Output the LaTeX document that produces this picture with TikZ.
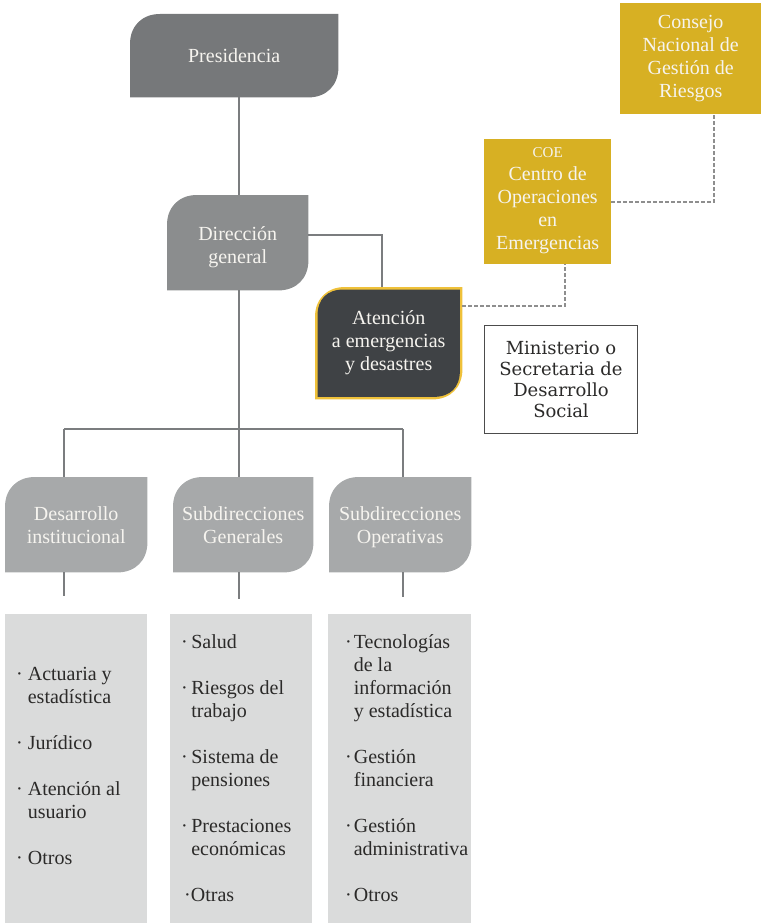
\documentclass[tikz,border=0pt]{standalone}
\usepackage{fontspec}
\setmainfont{Liberation Serif}
\newfontfamily\minfont{DejaVu Serif}
\usetikzlibrary{backgrounds}
\definecolor{presc}{HTML}{76787A}
\definecolor{dirc}{HTML}{8B8D8E}
\definecolor{subc}{HTML}{A7A9AA}
\definecolor{listc}{HTML}{DADBDB}
\definecolor{atenc}{HTML}{3F4245}
\definecolor{atenb}{HTML}{EFC13A}
\definecolor{goldc}{HTML}{D7B023}
\definecolor{linec}{HTML}{7B7D7F}
\definecolor{dashc}{HTML}{8E8E8E}
\definecolor{txtc}{HTML}{2B2A29}
\definecolor{whitec}{HTML}{F6F4EF}
\newcommand{\leafshape}[2]{\path[#2] (#1.south west) -- ([yshift=-30pt]#1.north west) .. controls ([yshift=-12pt]#1.north west) and ([xshift=12pt]#1.north west) .. ([xshift=30pt]#1.north west) -- (#1.north east) -- ([yshift=30pt]#1.south east) .. controls ([yshift=12pt]#1.south east) and ([xshift=-12pt]#1.south east) .. ([xshift=-30pt]#1.south east) -- cycle;}
\newcommand{\bA}{·\hspace{5pt}}
\newcommand{\bB}{·\hspace{3.5pt}}
\newcommand{\bC}{·\hspace{2pt}}
\newcommand{\topr}[1]{\rule{0pt}{#1pt}}
\tikzset{
  box/.style={rectangle, inner sep=0pt, anchor=north west},
  btext/.style={font=\fontsize{20}{23}\selectfont, text=whitec, align=center},
  conn/.style={draw=linec, line width=1.3pt},
  dashconn/.style={draw=dashc, line width=1.3pt, dash pattern=on 3.5pt off 2.5pt},
  listbox/.style={box, fill=listc},
  listtext/.style={anchor=north west, inner sep=0pt, align=left, text=txtc, font=\fontsize{20}{23}\selectfont}
}
\begin{document}
\begin{tikzpicture}[x=1pt,y=-1pt]
\useasboundingbox (0,0) rectangle (761,923);
% main boxes
\node[box, btext, minimum width=208pt, minimum height=83pt] (pres) at (130,14) {Presidencia};
\node[box, btext, minimum width=141pt, minimum height=95pt] (dir) at (167,195) {\topr{25}Dirección\\general\strut};
\node[box, btext, minimum width=147pt, minimum height=112pt] (aten) at (315,287) {\strut Atención\\a emergencias\\y desastres\strut};
\node[box, btext, fill=goldc, minimum width=127pt, minimum height=125pt] (coe) at (484,139) {{\fontsize{15}{18}\selectfont COE}\\Centro de\\Operaciones\\en\\Emergencias\strut};
\node[box, btext, fill=goldc, minimum width=141pt, minimum height=111pt] (cons) at (620,3) {\strut Consejo\\Nacional de\\Gestión de\\Riesgos\strut};
\node[box, draw=black!70, line width=1pt, minimum width=153pt, minimum height=108pt, align=center, text=txtc, font=\minfont\fontsize{18}{21}\selectfont] (mini) at (484,325) {Ministerio o\\Secretaria de\\Desarrollo\\Social};
\node[box, btext, minimum width=142pt, minimum height=95pt] (d1) at (5,477) {\topr{21}Desarrollo\\institucional\strut};
\node[box, btext, minimum width=140pt, minimum height=95pt] (d2) at (173,477) {\topr{21}Subdirecciones\\Generales\strut};
\node[box, btext, minimum width=142pt, minimum height=95pt] (d3) at (329,477) {\topr{21}Subdirecciones\\Operativas\strut};
% leaf backgrounds
\begin{scope}[on background layer]
\leafshape{pres}{fill=presc}
\leafshape{dir}{fill=dirc}
\leafshape{d1}{fill=subc}
\leafshape{d2}{fill=subc}
\leafshape{d3}{fill=subc}
\path[fill=atenb] (aten.south west) -- ([yshift=-30pt]aten.north west) .. controls ([yshift=-12pt]aten.north west) and ([xshift=12pt]aten.north west) .. ([xshift=30pt]aten.north west) -- (aten.north east) -- ([yshift=30pt]aten.south east) .. controls ([yshift=12pt]aten.south east) and ([xshift=-12pt]aten.south east) .. ([xshift=-30pt]aten.south east) -- cycle;
\path[fill=atenc] ([shift={(2.5pt,2.5pt)}]aten.south west) -- ([shift={(2.5pt,-29pt)}]aten.north west) .. controls ([shift={(2.5pt,-12pt)}]aten.north west) and ([shift={(12pt,-2.5pt)}]aten.north west) .. ([shift={(29pt,-2.5pt)}]aten.north west) -- ([shift={(-2.5pt,-2.5pt)}]aten.north east) -- ([shift={(-2.5pt,29pt)}]aten.south east) .. controls ([shift={(-2.5pt,12pt)}]aten.south east) and ([shift={(-12pt,2.5pt)}]aten.south east) .. ([shift={(-29pt,2.5pt)}]aten.south east) -- cycle;
\end{scope}
% lists
\node[listbox, minimum width=142pt, minimum height=309pt] (l1) at (5,614) {};
\node[listbox, minimum width=142pt, minimum height=309pt] (l2) at (170,614) {};
\node[listbox, minimum width=143pt, minimum height=309pt] (l3) at (328,614) {};
\node[listtext] (t1) at (16,664) {\strut\bA Actuaria y\\\phantom{\bA}estadística\\[23pt]\bA Jurídico\\[23pt]\bA Atención al\\\phantom{\bA}usuario\\[23pt]\bA Otros};
\node[listtext] (t2) at (181,632) {\strut\bB Salud\\[23pt]\bB Riesgos del\\\phantom{\bB}trabajo\\[23pt]\bB Sistema de\\\phantom{\bB}pensiones\\[23pt]\bB Prestaciones\\\phantom{\bB}económicas\\[23pt]\hspace{3pt}·Otras};
\node[listtext] (t3) at (345,632) {\strut\bC Tecnologías\\\phantom{\bC}de la\\\phantom{\bC}información\\\phantom{\bC}y estadística\\[23pt]\bC Gestión\\\phantom{\bC}financiera\\[23pt]\bC Gestión\\\phantom{\bC}administrativa\\[23pt]\bC Otros};
% connectors
\coordinate (trunk) at (239,0);
\coordinate (c1) at (64,429);
\coordinate (c2) at (239,429);
\coordinate (c3) at (403,429);
\coordinate (e1) at (64,596);
\coordinate (e2) at (239,599);
\coordinate (e3) at (403,597);
\coordinate (k) at (382,235);
\coordinate (m1) at (565,306);
\coordinate (m2) at (714,202);
\draw[conn] (pres.south -| trunk) -- (dir.north -| trunk);
\draw[conn] (dir.south -| trunk) -- (c2);
\draw[conn] (c1) -- (c3);
\draw[conn] (c1) -- (c1 |- d1.north);
\draw[conn] (c2) -- (c2 |- d2.north);
\draw[conn] (c3) -- (c3 |- d3.north);
\draw[conn] (d1.south -| e1) -- (e1);
\draw[conn] (d2.south -| e2) -- (e2);
\draw[conn] (d3.south -| e3) -- (e3);
\draw[conn] (dir.east |- k) -- (k) -- (k |- aten.north);
\draw[dashconn] (aten.east |- m1) -- (m1) -- (m1 |- coe.south);
\draw[dashconn] (coe.east |- m2) -- (m2) -- (m2 |- cons.south);
\end{tikzpicture}
\end{document}
